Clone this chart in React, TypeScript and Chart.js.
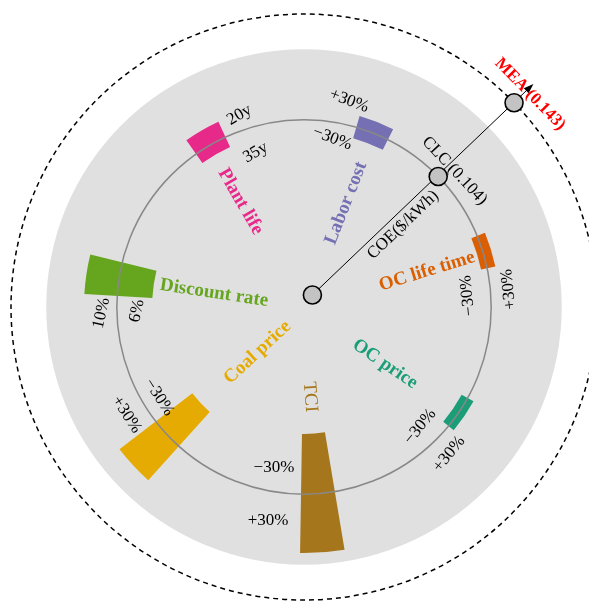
import { useEffect, useRef } from "react";
import { Chart, registerables } from "chart.js";

Chart.register(...registerables);

// Sensitivity parameters, clockwise from the upper left
const parameters = ["Plant life", "Labor cost", "OC life time", "OC price", "TCI", "Coal price", "Discount rate"];
// COE ($/kWh) of the CLC plant at the two ends of each parameter's range
const coeLow = [0.1, 0.0998, 0.1017, 0.1015, 0.0818, 0.087, 0.091];
const coeHigh = [0.1102, 0.1083, 0.1071, 0.1065, 0.1257, 0.1209, 0.1161];
const lowLabels = ["35y", "−30%", "−30%", "−30%", "−30%", "−30%", "6%"];
const highLabels = ["20y", "+30%", "+30%", "+30%", "+30%", "+30%", "10%"];
const paramColors = ["#e7298a", "#7570b3", "#d95f02", "#1b9e77", "#a6761d", "#e6ab02", "#66a61e"];

// Reference cases on the COE axis
const clcName = "CLC";
const clcCoe = 0.104;
const meaName = "MEA";
const meaCoe = 0.143;
const axisName = "COE($/kWh)";
const axisStartCoe = 0.0404;
const scaleMinCoe = 0.035;
const discCoe = 0.13;

// ---- layout (degrees / pixels) ----
const BAR_HALF_WIDTH = 5.2;
const AXIS_ANGLE = -44.2;
const AXIS_START_ANGLE = -55;
const ARROW_EXTRA = 27;
const SERIF = '"Liberation Serif", "Times New Roman", serif';

const catLayout = [
  { da: -1.1, r: 123 },
  { da: 0.6, r: 112 },
  { da: 1.0, r: 128 },
  { da: 0.9, r: 99 },
  { da: 0.5, r: 90 },
  { da: -1.5, r: 65 },
  { da: 0.2, r: 91 },
];
const catBold = [true, true, true, true, false, true, true];

const tickLayout = [
  { lowDa: 12.6, lowR: 162, highDa: 11.4, highR: 202.5, rot: -30 },
  { lowDa: -11.9, lowR: 171, highDa: -9.1, highR: 211, rot: 21 },
  { lowDa: 13.2, lowR: 164, highDa: 12.2, highR: 205.5, rot: -96 },
  { lowDa: 11.6, lowR: 166.7, highDa: 11.1, highR: 206.7, rot: -51 },
  { lowDa: 14.9, lowR: 163, highDa: 13.8, highR: 217, rot: 0 },
  { lowDa: 10.9, lowR: 170.8, highDa: 11.6, highR: 207.6, rot: 57 },
  { lowDa: -9.9, lowR: 167, highDa: -10.3, highR: 202.6, rot: -78 },
];

const DEG = Math.PI / 180;

function drawText(ctx: CanvasRenderingContext2D, text: string, x: number, y: number, rotDeg: number, font: string, color: string) {
  ctx.save();
  ctx.translate(x, y);
  ctx.rotate(rotDeg * DEG);
  ctx.font = font;
  ctx.fillStyle = color;
  ctx.textAlign = "center";
  ctx.textBaseline = "middle";
  ctx.fillText(text, 0, 0);
  ctx.restore();
}

const sensitivityPlugin = {
  id: "sensitivityWheel",
  afterDraw(chart: any) {
    const s = chart.scales.r;
    const ctx: CanvasRenderingContext2D = chart.ctx;
    const cx = s.xCenter;
    const cy = s.yCenter;
    const rad = (v: number) => s.getDistanceFromCenterForValue(v);
    const idxAngle = (i: number) => s.getIndexAngle(i) - Math.PI / 2;
    const at = (a: number, r: number): [number, number] => [cx + r * Math.cos(a), cy + r * Math.sin(a)];

    ctx.save();

    // grey background disc
    ctx.beginPath();
    ctx.arc(cx, cy, rad(discCoe), 0, Math.PI * 2);
    ctx.fillStyle = "#e0e0e0";
    ctx.fill();

    // dashed circle through the MEA reference
    ctx.beginPath();
    ctx.arc(cx, cy, rad(meaCoe), 0, Math.PI * 2);
    ctx.setLineDash([5, 4]);
    ctx.lineWidth = 1.5;
    ctx.strokeStyle = "#000";
    ctx.stroke();
    ctx.setLineDash([]);

    // sensitivity bars
    parameters.forEach((_, i) => {
      const a = idxAngle(i);
      const a0 = a - BAR_HALF_WIDTH * DEG;
      const a1 = a + BAR_HALF_WIDTH * DEG;
      ctx.beginPath();
      ctx.arc(cx, cy, rad(coeHigh[i]), a0, a1);
      ctx.arc(cx, cy, rad(coeLow[i]), a1, a0, true);
      ctx.closePath();
      ctx.fillStyle = paramColors[i];
      ctx.fill();
    });

    // base-case circle (CLC)
    ctx.beginPath();
    ctx.arc(cx, cy, rad(clcCoe), 0, Math.PI * 2);
    ctx.lineWidth = 1.5;
    ctx.strokeStyle = "#888";
    ctx.stroke();

    // parameter names
    parameters.forEach((name, i) => {
      const a = idxAngle(i);
      const L = catLayout[i];
      const [x, y] = at(a + L.da * DEG, L.r);
      let rot = a / DEG;
      if (Math.cos(a) < -0.01) rot -= 180;
      drawText(ctx, name, x, y, rot, `${catBold[i] ? "bold " : ""}19px ${SERIF}`, paramColors[i]);
    });

    // range labels
    parameters.forEach((_, i) => {
      const a = idxAngle(i);
      const T = tickLayout[i];
      const [lx, ly] = at(a + T.lowDa * DEG, T.lowR);
      const [hx, hy] = at(a + T.highDa * DEG, T.highR);
      drawText(ctx, lowLabels[i], lx, ly, T.rot, `17px ${SERIF}`, "#000");
      drawText(ctx, highLabels[i], hx, hy, T.rot, `17px ${SERIF}`, "#000");
    });

    // COE axis with arrow
    const ax = AXIS_ANGLE * DEG;
    const [sx, sy] = at(AXIS_START_ANGLE * DEG, rad(axisStartCoe));
    const [clx, cly] = at(ax, rad(clcCoe));
    const [mx, my] = at(ax, rad(meaCoe));
    const [tx, ty] = at(ax, rad(meaCoe) + ARROW_EXTRA);
    const dirA = Math.atan2(ty - sy, tx - sx);
    ctx.beginPath();
    ctx.moveTo(sx, sy);
    ctx.lineTo(tx - 6 * Math.cos(dirA), ty - 6 * Math.sin(dirA));
    ctx.lineWidth = 1;
    ctx.strokeStyle = "#000";
    ctx.stroke();
    ctx.beginPath();
    ctx.moveTo(tx, ty);
    ctx.lineTo(tx - 10 * Math.cos(dirA) + 3.5 * Math.sin(dirA), ty - 10 * Math.sin(dirA) - 3.5 * Math.cos(dirA));
    ctx.lineTo(tx - 10 * Math.cos(dirA) - 3.5 * Math.sin(dirA), ty - 10 * Math.sin(dirA) + 3.5 * Math.cos(dirA));
    ctx.closePath();
    ctx.fillStyle = "#000";
    ctx.fill();

    // markers
    [[sx, sy], [clx, cly], [mx, my]].forEach(([x, y]) => {
      ctx.beginPath();
      ctx.arc(x, y, 9, 0, Math.PI * 2);
      ctx.fillStyle = "#c3c3c3";
      ctx.fill();
      ctx.lineWidth = 1.6;
      ctx.strokeStyle = "#000";
      ctx.stroke();
    });

    // axis and marker labels
    const ux = Math.cos(ax), uy = Math.sin(ax); // radial
    const px = -uy, py = ux; // tangential (clockwise)
    drawText(ctx, axisName, sx + 114 * Math.cos(dirA) - 12 * Math.sin(dirA), sy + 114 * Math.sin(dirA) + 12 * Math.cos(dirA), dirA / DEG, `17px ${SERIF}`, "#000");
    drawText(ctx, `${clcName} (${clcCoe.toFixed(3)})`, clx + 15.7 * ux + 7.3 * px, cly + 15.7 * uy + 7.3 * py, AXIS_ANGLE + 91, `17px ${SERIF}`, "#000");
    drawText(ctx, `${meaName} (${meaCoe.toFixed(3)})`, mx + 17.5 * ux + 5 * px, my + 17.5 * uy + 5 * py, AXIS_ANGLE + 90, `bold 17px ${SERIF}`, "#ff0000");

    ctx.restore();
  },
};

export default function App() {
  const canvasRef = useRef<HTMLCanvasElement | null>(null);

  useEffect(() => {
    if (!canvasRef.current) return;
    const chart = new Chart(canvasRef.current, {
      type: "radar",
      data: { labels: parameters, datasets: [] },
      options: {
        responsive: false,
        animation: false,
        devicePixelRatio: 1,
        layout: { padding: { left: 11, top: 14, right: 2, bottom: 5 } },
        plugins: { legend: { display: false }, tooltip: { enabled: false } },
        scales: {
          r: {
            min: scaleMinCoe,
            max: meaCoe,
            startAngle: -30,
            grid: { display: false },
            angleLines: { display: false },
            ticks: { display: false },
            pointLabels: { display: false },
          },
        },
      },
      plugins: [sensitivityPlugin],
    } as any);
    return () => chart.destroy();
  }, []);

  return (
    <div style={{ position: "fixed", left: 0, top: 0, width: 589, height: 606, overflow: "hidden", background: "#fff" }}>
      <canvas ref={canvasRef} width={600} height={606} style={{ width: 600, height: 606, display: "block" }} />
    </div>
  );
}
